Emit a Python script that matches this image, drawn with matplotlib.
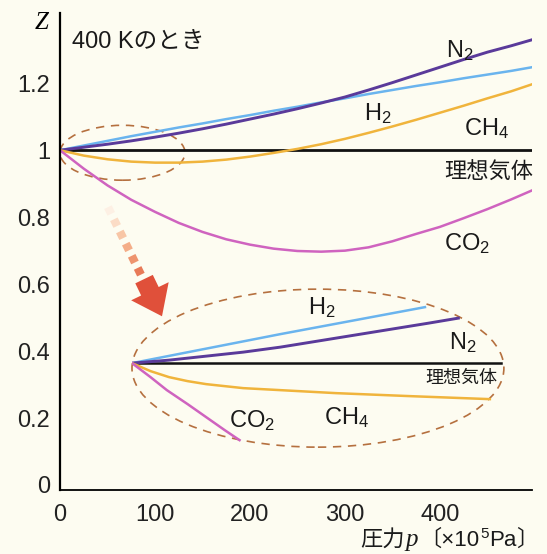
import numpy as np
import matplotlib
matplotlib.use("Agg")
import matplotlib.pyplot as plt
from matplotlib.patches import Ellipse, FancyArrowPatch

plt.rcParams['font.family'] = ['Liberation Sans', 'Noto Sans CJK JP']
plt.rcParams['mathtext.fontset'] = 'custom'
plt.rcParams['mathtext.rm'] = 'Liberation Sans'
plt.rcParams['mathtext.it'] = 'Liberation Sans:italic'

# main chart: pressure (x10^5 Pa) vs compressibility factor Z at 400 K
p_main = [0, 25, 50, 75, 100, 125, 150, 175, 200, 225, 250, 275, 300, 325, 350,
          375, 400, 425, 450, 475, 497]
z_h2 = [1.0, 1.014, 1.028, 1.042, 1.055, 1.068, 1.08, 1.093, 1.105, 1.118, 1.13,
        1.143, 1.155, 1.168, 1.18, 1.192, 1.203, 1.215, 1.226, 1.237, 1.248]
z_n2 = [1.0, 1.009, 1.018, 1.028, 1.039, 1.051, 1.064, 1.078, 1.093, 1.108, 1.124,
        1.141, 1.159, 1.18, 1.202, 1.225, 1.248, 1.271, 1.293, 1.312, 1.33]
z_ch4 = [1.0, 0.984, 0.973, 0.966, 0.963, 0.963, 0.966, 0.972, 0.981, 0.992, 1.004,
         1.018, 1.034, 1.052, 1.071, 1.091, 1.112, 1.133, 1.155, 1.176, 1.197]
z_co2 = [1.0, 0.945, 0.895, 0.852, 0.816, 0.783, 0.756, 0.734, 0.718, 0.706, 0.699,
         0.697, 0.70, 0.71, 0.728, 0.75, 0.771, 0.797, 0.824, 0.853, 0.88]
p_ideal = [0, 497]
z_ideal = [1.0, 1.0]

# magnified view of the low-pressure region (schematic units)
pi_h2 = [0, 40, 79]
zi_h2 = [1.0, 1.029, 1.056]
pi_n2 = [0, 10, 20, 30, 40, 50, 60, 70, 80, 88]
zi_n2 = [1.0, 1.003, 1.007, 1.011, 1.016, 1.022, 1.028, 1.034, 1.040, 1.045]
pi_ch4 = [0, 5, 10, 15, 20, 30, 40, 55, 75, 96.5]
zi_ch4 = [1.0, 0.992, 0.986, 0.982, 0.979, 0.975, 0.973, 0.970, 0.967, 0.964]
pi_co2 = [0, 5, 9.4, 15, 20, 25, 29]
zi_co2 = [1.0, 0.986, 0.973, 0.959, 0.946, 0.933, 0.923]
pi_ideal = [0, 99.5]
zi_ideal = [1.0, 1.0]

x_ticks = [0, 100, 200, 300, 400]
y_ticks = [0, 0.2, 0.4, 0.6, 0.8, 1.0, 1.2]
y_labels = ['0', '0.2', '0.4', '0.6', '0.8', '1', '1.2']

c_n2 = '#5a3a9a'
c_h2 = '#6ab4ee'
c_ch4 = '#f0b43c'
c_co2 = '#cf63bf'
c_ell = '#b5703f'
bg = '#fdfcf1'

fig = plt.figure(figsize=(5.47, 5.54), dpi=100, facecolor=bg)
ax = fig.add_axes([60/547, 1-490/554, 472/547, 477/554])
ax.set_facecolor(bg)
ax.set_xlim(0, 497)
ax.set_ylim(-0.015, 1.41)

ax.plot(p_ideal, z_ideal, color='#111111', lw=2)
ax.plot(p_main, z_h2, color=c_h2, lw=1.8)
ax.plot(p_main, z_n2, color=c_n2, lw=2.1)
ax.plot(p_main, z_ch4, color=c_ch4, lw=1.8)
ax.plot(p_main, z_co2, color=c_co2, lw=1.8)

for s in ['top', 'right']:
    ax.spines[s].set_visible(False)
ax.spines['left'].set_linewidth(1.6)
ax.spines['bottom'].set_linewidth(1.3)
ax.set_xticks(x_ticks)
ax.set_yticks(y_ticks)
ax.set_yticklabels(y_labels)
ax.tick_params(length=0, labelsize=17, colors='#222222')
ax.tick_params(axis='x', pad=10)
ax.tick_params(axis='y', pad=7)

lab = dict(fontsize=17, color='#1a1a1a', ha='center', va='center')
ax.text(421, 1.299, r'N$_2$', **lab)
ax.text(335, 1.11, r'H$_2$', **lab)
ax.text(449, 1.066, r'CH$_4$', **lab)
ax.text(451, 0.931, '理想気体', fontsize=16, color='#1a1a1a', ha='center', va='center')
ax.text(429, 0.722, r'CO$_2$', **lab)
ax.text(12.6, 1.322, '400 Kのとき', fontsize=17, color='#1a1a1a', ha='left', va='center')
ax.text(-19, 1.38, 'Z', fontsize=18, family='Liberation Serif', style='italic',
        ha='center', va='center', clip_on=False)

# dashed ellipses
ax.add_patch(Ellipse((65.8, 0.9925), 131.6, 0.164, fill=False, ec=c_ell, lw=1.2,
                     ls=(0, (5, 4))))
ax.add_patch(Ellipse((271.6, 0.349), 391.6, 0.472, fill=False, ec=c_ell, lw=1.2,
                     ls=(0, (5, 4))))

# fading dashed arrow
a0 = np.array([50.5, 0.830])
a1 = np.array([88.0, 0.612])
dash_cols = ['#fdf0e4', '#fbdcc6', '#f8c6a6', '#f4ad88', '#ee946e', '#e87a58']
for i, col in enumerate(dash_cols):
    t0 = i / len(dash_cols)
    t1 = t0 + 0.55 / len(dash_cols)
    q0 = a0 + (a1 - a0) * t0
    q1 = a0 + (a1 - a0) * t1
    ax.plot([q0[0], q1[0]], [q0[1], q1[1]], color=col, lw=6, solid_capstyle='butt')
ax.add_patch(FancyArrowPatch((88.5, 0.615), (107.4, 0.504),
                             arrowstyle='simple,head_width=3.0,head_length=2.0,tail_width=1.4',
                             mutation_scale=10, color='#e0503a', lw=0,
                             shrinkA=0, shrinkB=0))

# magnified inset
ins = ax.inset_axes([75.8, 0.125, 390.5, 0.478], transform=ax.transData)
ins.set_xlim(0, 100)
ins.set_ylim(0.92, 1.08)
ins.axis('off')
ins.patch.set_alpha(0)
ins.plot(pi_ideal, zi_ideal, color='#111111', lw=1.8)
ins.plot(pi_h2, zi_h2, color=c_h2, lw=1.8)
ins.plot(pi_n2, zi_n2, color=c_n2, lw=2.1)
ins.plot(pi_ch4, zi_ch4, color=c_ch4, lw=1.8)
ins.plot(pi_co2, zi_co2, color=c_co2, lw=1.8)
ins.text(51.2, 1.056, r'H$_2$', **lab)
ins.text(89.3, 1.021, r'N$_2$', **lab)
ins.text(88.7, 0.985, '理想気体', fontsize=13, color='#1a1a1a', ha='center', va='center')
ins.text(57.9, 0.946, r'CH$_4$', **lab)
ins.text(32.4, 0.943, r'CO$_2$', **lab)

# x axis label, built from pieces
txt = dict(fontsize=16, color='#1a1a1a', ha='left', va='bottom', annotation_clip=False,
           textcoords='offset points')
t1 = fig.text(360/547, 1-546/554, '圧力', fontsize=16, color='#1a1a1a', ha='left', va='baseline')
t2 = ax.annotate('p', xy=(1, 0), xycoords=t1, xytext=(1, 0),
                 **dict(txt, fontsize=18, family='Liberation Serif', style='italic'))
t3 = ax.annotate('〔×10', xy=(1, 0), xycoords=t2, xytext=(0.5, 0), **txt)
t4 = ax.annotate('5', xy=(1, 0.45), xycoords=t3, xytext=(0.5, 0), **dict(txt, fontsize=11))
t5 = ax.annotate('Pa', xy=(1, 0), xycoords=(t4, t3), xytext=(0.5, 0), **txt)
t6 = ax.annotate('〕', xy=(1, 0), xycoords=t5, xytext=(0, 0), **txt)

fig.savefig('out.png', dpi=100, facecolor=bg)
